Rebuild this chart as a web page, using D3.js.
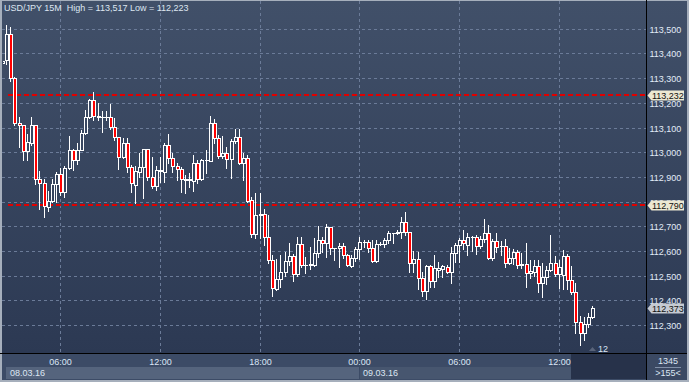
<!DOCTYPE html>
<html><head><meta charset="utf-8">
<script src="https://cdn.jsdelivr.net/npm/d3@7"></script>
<style>html,body{margin:0;padding:0;background:#a6afbc;overflow:hidden}text{font-family:"Liberation Sans",Arial,sans-serif;white-space:pre}</style>
</head><body><svg id="c" width="689" height="382"></svg>
<script>
// ---- data (15-minute candles, USD/JPY) ----
const openV = [113.365,113.376,113.48,113.302,113.119,113.111,113.006,113.038,113.111,112.893,112.877,112.782,112.805,112.874,112.914,112.843,112.938,113.011,112.971,113.013,113.079,113.146,113.214,113.149,113.146,113.146,113.146,113.103,113.063,112.982,113.038,112.941,112.870,112.923,112.941,113.014,112.901,112.866,112.930,112.923,113.032,112.978,112.947,112.933,112.888,112.89,112.887,112.96,112.893,112.971,112.968,113.122,113.059,112.987,113.0,112.976,113.049,113.063,112.96,112.978,112.809,112.671,112.748,112.752,112.658,112.566,112.449,112.488,112.516,112.562,112.582,112.508,112.63,112.546,112.546,112.546,112.593,112.647,112.636,112.698,112.613,112.613,112.623,112.586,112.542,112.573,112.609,112.64,112.64,112.613,112.562,112.63,112.632,112.647,112.676,112.676,112.68,112.719,112.681,112.555,112.569,112.494,112.442,112.542,112.482,112.526,112.53,112.537,112.519,112.593,112.627,112.647,112.627,112.66,112.66,112.623,112.65,112.674,112.573,112.643,112.623,112.623,112.555,112.573,112.6,112.546,112.548,112.512,112.519,112.542,112.472,112.496,112.526,112.555,112.509,112.505,112.582,112.485,112.438,112.316,112.269,112.307,112.334];
const highV = [113.38,113.517,113.51,113.306,113.144,113.111,113.075,113.144,113.111,112.928,112.893,112.845,112.893,112.924,112.937,112.945,113.068,113.015,113.038,113.092,113.173,113.218,113.245,113.2,113.169,113.169,113.198,113.14,113.063,113.059,113.059,112.951,112.947,113.0,113.014,113.014,112.984,112.947,112.982,113.041,113.076,112.998,112.96,112.943,112.91,112.92,112.991,112.972,112.974,113.011,113.149,113.135,113.072,113.068,113.025,113.054,113.095,113.095,112.998,112.99,112.82,112.836,112.838,112.771,112.748,112.586,112.569,112.586,112.6,112.634,112.59,112.658,112.658,112.577,112.62,112.654,112.704,112.658,112.712,112.70,112.613,112.636,112.634,112.59,112.586,112.62,112.66,112.647,112.647,112.647,112.647,112.64,112.654,112.685,112.676,112.687,112.739,112.759,112.681,112.602,112.6,112.519,112.546,112.546,112.586,112.558,112.546,112.546,112.62,112.634,112.654,112.687,112.674,112.662,112.667,112.662,112.731,112.708,112.65,112.677,112.644,112.65,112.613,112.61,112.607,112.593,112.634,112.567,112.567,112.567,112.553,112.54,112.667,112.582,112.567,112.606,112.59,112.542,112.472,112.339,112.336,112.35,112.378];
const lowV = [113.338,113.358,113.292,113.111,113.025,112.971,112.971,113.03,112.872,112.771,112.741,112.766,112.80,112.80,112.83,112.822,112.935,112.93,112.953,113.01,113.075,113.14,113.133,113.133,113.085,113.133,113.097,113.052,112.933,112.98,112.924,112.843,112.796,112.903,112.816,112.89,112.856,112.849,112.883,112.883,112.958,112.924,112.89,112.843,112.838,112.863,112.847,112.877,112.89,112.92,112.968,113.038,112.98,112.977,112.937,112.897,113.038,112.955,112.89,112.80,112.658,112.654,112.654,112.627,112.555,112.42,112.445,112.458,112.5,112.546,112.482,112.5,112.537,112.512,112.53,112.54,112.58,112.6,112.58,112.59,112.566,112.539,112.576,112.542,112.539,112.563,112.57,112.62,112.6,112.559,112.559,112.625,112.62,112.634,112.634,112.67,112.654,112.667,112.519,112.519,112.447,112.42,112.408,112.455,112.455,112.496,112.496,112.515,112.472,112.559,112.559,112.609,112.586,112.604,112.59,112.613,112.64,112.569,112.566,112.6,112.586,112.539,112.55,112.55,112.532,112.532,112.455,112.492,112.5,112.438,112.418,112.47,112.52,112.5,112.451,112.447,112.447,112.428,112.269,112.223,112.242,112.296,112.33];
const closeV = [113.37,113.48,113.302,113.119,113.111,113.006,113.043,113.111,112.893,112.877,112.786,112.805,112.874,112.914,112.843,112.938,113.011,112.971,113.013,113.079,113.146,113.214,113.149,113.146,113.146,113.146,113.103,113.063,112.982,113.038,112.944,112.877,112.928,112.941,113.014,112.901,112.866,112.930,112.927,113.032,112.978,112.947,112.933,112.893,112.895,112.893,112.96,112.893,112.971,112.971,113.122,113.059,112.987,113.0,112.976,113.049,113.063,112.96,112.978,112.806,112.671,112.748,112.752,112.658,112.566,112.451,112.488,112.516,112.562,112.582,112.508,112.63,112.546,112.546,112.55,112.593,112.647,112.636,112.698,112.613,112.613,112.623,112.586,112.546,112.573,112.609,112.64,112.64,112.613,112.562,112.63,112.632,112.647,112.677,112.676,112.68,112.719,112.681,112.555,112.569,112.494,112.442,112.542,112.482,112.532,112.534,112.54,112.519,112.593,112.627,112.647,112.634,112.66,112.66,112.623,112.65,112.674,112.573,112.643,112.62,112.623,112.555,112.573,112.6,112.546,112.548,112.512,112.521,112.542,112.472,112.496,112.526,112.555,112.509,112.539,112.582,112.485,112.438,112.316,112.269,112.307,112.334,112.373];
const priceTicks = [112.3,112.4,112.5,112.6,112.7,112.8,112.9,113.0,113.1,113.2,113.3,113.4,113.5];
const timeTickIndex = [14,38,62,86,110,134];
const timeTickLabels = ["06:00","12:00","18:00","00:00","06:00","12:00"];
const dateLabels = ["08.03.16","09.03.16"];
const dateStartIndex = [0,86];
const levelLines = [113.232,112.790];
const lastPrice = 112.373;
const titleText = "USD/JPY 15M  High = 113,517 Low = 112,223";
const barCountText = "1345";
const shiftText = ">155<";
const markText = "12";

// ---- drawing ----
const svg = d3.select("#c");
const PL=2, PR=646, PT=1, PB=353;
const x = d3.scaleLinear().domain([14,134]).range([60.7,559.3]);
const y = d3.scaleLinear().domain([112.3,113.5]).range([325.7,29.3]);
const fmt = v => d3.format(".3f")(v).replace(".", ",");

const defs = svg.append("defs");
const g = defs.append("linearGradient").attr("id","bg").attr("gradientUnits","userSpaceOnUse")
  .attr("x1",0).attr("y1",PT).attr("x2",0).attr("y2",PB);
g.append("stop").attr("offset",0).attr("stop-color","#415069");
g.append("stop").attr("offset",1).attr("stop-color","#2c3953");
defs.append("clipPath").attr("id","clip").append("rect").attr("x",3).attr("y",PT).attr("width",PR-3).attr("height",PB-PT);

svg.append("rect").attr("width",689).attr("height",382).attr("fill","#a6afbc");
svg.append("rect").attr("x",PL).attr("y",PT).attr("width",PR-PL).attr("height",PB-PT).attr("fill","url(#bg)");
svg.append("rect").attr("x",647).attr("y",PT).attr("width",40).attr("height",PB-PT).attr("fill","url(#bg)");
// bottom axis zone
svg.append("rect").attr("x",PL).attr("y",354).attr("width",PR-PL).attr("height",26).attr("fill","#3c4b66");
svg.append("rect").attr("x",647).attr("y",354).attr("width",40).attr("height",26).attr("fill","#3b4963");
const d2 = Math.floor(x(dateStartIndex[1]));
svg.append("rect").attr("x",6).attr("y",367).attr("width",d2-6).attr("height",12).attr("fill","#55647d");
svg.append("rect").attr("x",d2+1).attr("y",367).attr("width",571-d2-1).attr("height",12).attr("fill","#47566f");
svg.append("rect").attr("x",571).attr("y",354).attr("width",PR-571).attr("height",25).attr("fill","#27324a");

// grid
const grid = svg.append("g").attr("stroke","#6b7b98").attr("stroke-width",1).attr("stroke-dasharray","3,3").attr("fill","none");
priceTicks.forEach(v=>{ const yy=Math.floor(y(v))+0.5; grid.append("line").attr("x1",PL).attr("x2",PR).attr("y1",yy).attr("y2",yy); });
timeTickIndex.forEach(i=>{ const xx=Math.floor(x(i))+0.5; grid.append("line").attr("x1",xx).attr("x2",xx).attr("y1",PT).attr("y2",PB); });

// level lines
levelLines.forEach(v=>{ const yy=Math.round(y(v)); svg.append("line").attr("x1",PL+6).attr("x2",PR).attr("y1",yy).attr("y2",yy)
  .attr("stroke","#e00000").attr("stroke-width",2).attr("stroke-dasharray","5,3"); });

// candles
const cg = svg.append("g").attr("clip-path","url(#clip)");
openV.forEach((o,i)=>{
  const c=closeV[i], h=highV[i], l=lowV[i];
  const px=Math.floor(x(i));
  const yh=Math.round(y(h)), yl=Math.round(y(l));
  cg.append("rect").attr("x",px).attr("y",yh).attr("width",1).attr("height",Math.max(1,yl-yh+1)).attr("fill","#ffffff");
  const yt=Math.round(y(Math.max(o,c))), yb=Math.round(y(Math.min(o,c)));
  cg.append("rect").attr("x",px-1).attr("y",yt).attr("width",4).attr("height",Math.max(1,yb-yt+1)).attr("fill","#ffffff");
  if (yb-yt-1>0) cg.append("rect").attr("x",px).attr("y",yt+1).attr("width",2).attr("height",yb-yt-1)
     .attr("fill", c<o ? "#ff0000" : "url(#bg)");
});

// frame lines
svg.append("rect").attr("x",0).attr("y",353).attr("width",687).attr("height",1).attr("fill","#000");
svg.append("rect").attr("x",646).attr("y",0).attr("width",1).attr("height",380).attr("fill","#000");

// title
svg.append("text").attr("x",4).attr("y",11).attr("font-size",9).attr("fill","#dde6f1").text(titleText);

// price axis labels
const ax = svg.append("g").attr("font-size",9).attr("fill","#e2ebf7");
priceTicks.forEach(v=>{ ax.append("text").attr("x",649.5).attr("y",Math.floor(y(v))+3.5).text(fmt(v)); });

// price tags
function tag(v, fill){
  const cy=Math.round(y(v))+0.5;
  svg.append("path").attr("d",`M647.5,${cy} L651.5,${cy-5} L684,${cy-5} L684,${cy+5} L651.5,${cy+5} Z`).attr("fill",fill);
  svg.append("text").attr("x",652).attr("y",cy+3.3).attr("font-size",9).attr("fill","#111").text(fmt(v));
}
levelLines.forEach(v=>tag(v,"#ece8d2"));
tag(lastPrice,"#c5cad2");

// time axis labels
timeTickIndex.forEach((i,k)=>{ svg.append("text").attr("x",Math.floor(x(i))+0.5).attr("y",365).attr("text-anchor","middle")
  .attr("font-size",9).attr("fill","#dbe6f5").text(timeTickLabels[k]); });
svg.append("text").attr("x",10).attr("y",376).attr("font-size",9).attr("fill","#dde6f3").text(dateLabels[0]);
svg.append("text").attr("x",d2+4).attr("y",376).attr("font-size",9).attr("fill","#dde6f3").text(dateLabels[1]);

// bottom-right info
svg.append("text").attr("x",668).attr("y",363.5).attr("text-anchor","middle").attr("font-size",9).attr("fill","#dde6f3").text(barCountText);
svg.append("rect").attr("x",655).attr("y",367).attr("width",26).attr("height",1).attr("fill","#8190a8");
svg.append("text").attr("x",668).attr("y",376).attr("text-anchor","middle").attr("font-size",9).attr("fill","#dde6f3").text(shiftText);

// bar marker "12"
svg.append("path").attr("d","M589,351 L592.5,347 L596,351 Z").attr("fill","#59647a");
svg.append("text").attr("x",598).attr("y",351.5).attr("font-size",9).attr("fill","#dbe6f5").text(markText);
</script></body></html>
